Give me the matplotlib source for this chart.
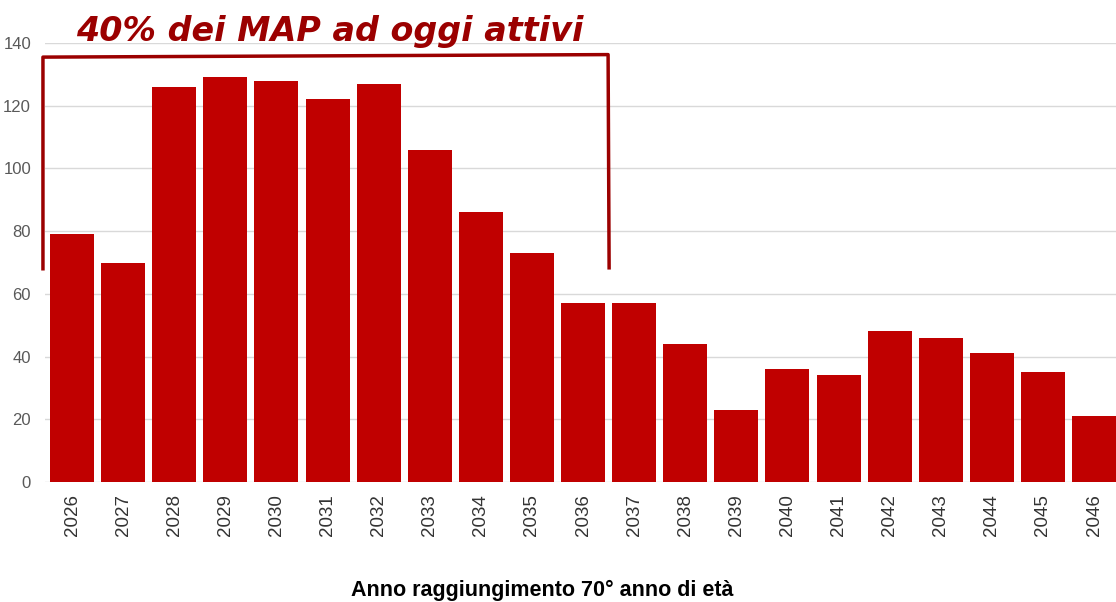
import matplotlib.pyplot as plt

years = [str(y) for y in range(2026, 2047)]
counts = [79, 70, 126, 129, 128, 122, 127, 106, 86, 73, 57, 57, 44, 23, 36, 34, 48, 46, 41, 35, 21]

# bracket covering the first 11 years (2026-2036)
bracket_x = [-0.57, -0.57, 10.49, 10.51]
bracket_y = [68, 135.5, 136.3, 68.3]

BAR = "#c00000"
DARK_RED = "#9b0000"

plt.rcParams["font.family"] = ["Liberation Sans", "DejaVu Sans"]

fig = plt.figure(figsize=(11.16, 6.02), dpi=100)
ax = fig.add_axes([45 / 1116, 1 - 482 / 602, 1 - 45 / 1116, (482 - 43) / 602])

x = range(len(years))
ax.bar(x, counts, width=0.86, color=BAR, zorder=2)
ax.set_xlim(-0.53, 20.43)
ax.set_ylim(0, 140)
ax.set_yticks(range(0, 141, 20))
ax.set_xticks(list(x))
ax.set_xticklabels(years, rotation=90, fontsize=13.5, color="#333333")
ax.tick_params(axis="y", labelsize=12, labelcolor="#595959", length=0, pad=10)
ax.tick_params(axis="x", length=0, pad=9)
ax.grid(axis="y", color="#d9d9d9", linewidth=1, zorder=0)
for s in ax.spines.values():
    s.set_visible(False)

ax.plot(bracket_x, bracket_y, color=DARK_RED, linewidth=2.5, clip_on=False, zorder=3)

fig.text(330 / 1116, 1 - 31 / 602, "40% dei MAP ad oggi attivi", color=DARK_RED,
         fontsize=24, fontweight="bold", fontstyle="italic", ha="center", va="center",
         family=["DejaVu Sans"])
fig.text(542 / 1116, 1 - 590 / 602, "Anno raggiungimento 70° anno di età", color="black",
         fontsize=15.5, fontweight="bold", ha="center", va="center")

fig.savefig("out.png", dpi=100)
